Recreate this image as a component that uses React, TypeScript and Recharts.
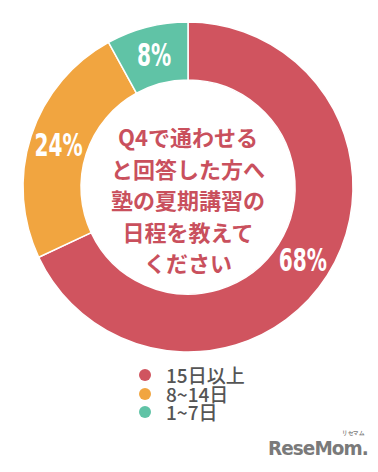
import { PieChart, Pie, Cell, Legend } from "recharts";

const CATEGORIES = ["15日以上", "8~14日", "1~7日"];
const VALUES = [68, 24, 8];
const COLORS = ["#d0545f", "#f1a540", "#60c3a6"];
const CENTER_LINES = ["Q4で通わせる", "と回答した方へ", "塾の夏期講習の", "日程を教えて", "ください"];

const chartData = CATEGORIES.map((name, i) => ({ name, value: VALUES[i] }));

const RAD = Math.PI / 180;

function SliceLabel(props: any) {
  const { cx, cy, midAngle, innerRadius, outerRadius, value } = props;
  const r = (innerRadius + outerRadius) / 2;
  const x = cx + r * Math.cos(-midAngle * RAD);
  const y = cy + r * Math.sin(-midAngle * RAD);
  return (
    <text
      transform={`translate(${x},${y}) scale(0.7,1)`}
      x={0}
      y={0}
      fill="#fff"
      textAnchor="middle"
      dominantBaseline="central"
      fontFamily="'Liberation Sans Narrow', 'DejaVu Sans Condensed', sans-serif"
      fontWeight={700}
      fontSize={32}
    >
      {value}%
    </text>
  );
}

function LegendList() {
  return (
    <div style={{ fontFamily: "'Noto Sans CJK JP', sans-serif", fontSize: 19, fontWeight: 500, color: "#555" }}>
      {chartData.map((d, i) => (
        <div key={d.name} style={{ display: "flex", alignItems: "center", height: 18.5, lineHeight: "18.5px" }}>
          <span
            style={{
              display: "inline-block",
              width: 12,
              height: 12,
              borderRadius: 6,
              background: COLORS[i],
              marginRight: 15,
            }}
          />
          {d.name}
        </div>
      ))}
    </div>
  );
}

export default function App() {
  return (
    <div style={{ position: "absolute", left: 0, top: 0, width: 378, height: 472, background: "#fff" }}>
      <PieChart width={378} height={472} margin={{ top: 0, right: 0, bottom: 0, left: 0 }}>
        <Pie
          data={chartData}
          dataKey="value"
          nameKey="name"
          cx={188}
          cy={187}
          innerRadius={107}
          outerRadius={165}
          startAngle={90}
          endAngle={-270}
          stroke="#fff"
          strokeWidth={1.5}
          label={SliceLabel}
          labelLine={false}
          isAnimationActive={false}
        >
          {chartData.map((_, i) => (
            <Cell key={i} fill={COLORS[i]} />
          ))}
        </Pie>
        <Legend
          layout="horizontal"
          align="left"
          verticalAlign="bottom"
          wrapperStyle={{ left: 139, top: 366, bottom: "auto", width: 130 }}
          content={LegendList}
        />
      </PieChart>
      <div
        style={{
          position: "absolute",
          left: 88,
          top: 121,
          width: 200,
          textAlign: "center",
          fontFamily: "'Noto Sans CJK JP', sans-serif",
          fontWeight: 700,
          fontSize: 22,
          lineHeight: "31.5px",
          color: "#c9505d",
        }}
      >
        {CENTER_LINES.map((line) => (
          <div key={line}>{line}</div>
        ))}
      </div>
      <div
        style={{
          position: "absolute",
          left: 268,
          top: 436,
          fontFamily: "'DejaVu Sans', sans-serif",
          fontWeight: 700,
          fontSize: 20,
          color: "#7a7a7a",
          letterSpacing: -1,
          transform: "scaleX(0.92)",
          transformOrigin: "left",
        }}
      >
        ReseMom.
        <span style={{ position: "absolute", right: 4, top: -7, fontSize: 6, letterSpacing: 0 }}>リセマム</span>
      </div>
    </div>
  );
}
